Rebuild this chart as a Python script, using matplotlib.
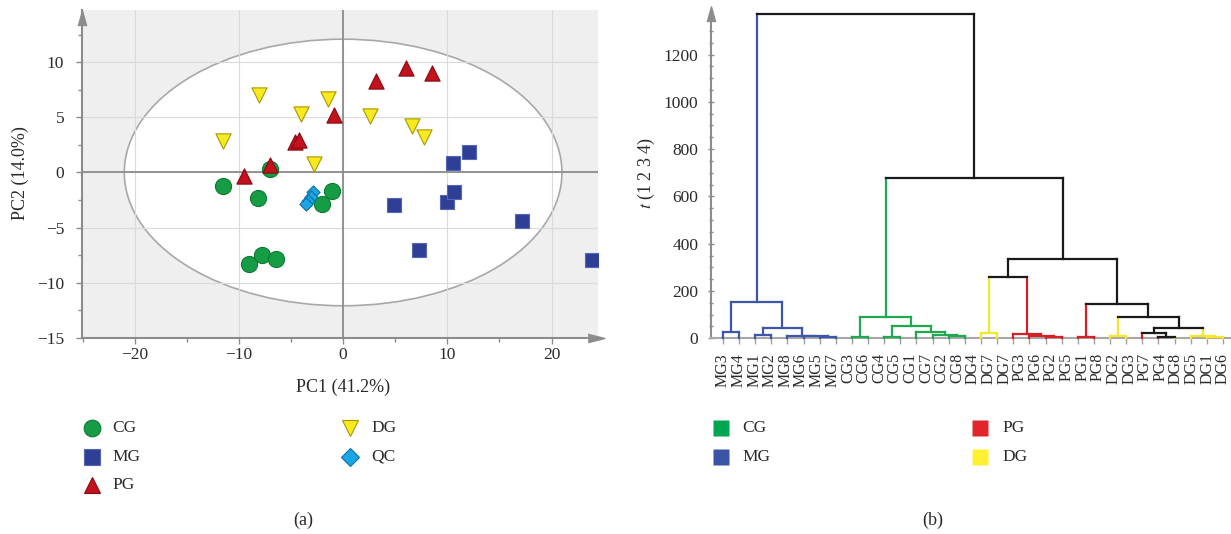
import numpy as np
import matplotlib
matplotlib.use("Agg")
import matplotlib.pyplot as plt
from matplotlib.patches import Ellipse
from matplotlib.lines import Line2D

plt.rcParams['font.family'] = ['Liberation Serif', 'DejaVu Serif']
plt.rcParams['mathtext.fontset'] = 'stix'

# ---------------- data: PCA scores (panel a) ----------------
cg_pc1 = [-11.5, -8.2, -7.0, -1.1, -2.0, -9.0, -7.8, -6.4]
cg_pc2 = [-1.2, -2.3, 0.35, -1.65, -2.85, -8.3, -7.45, -7.9]
mg_pc1 = [10.5, 12.05, 4.9, 10.0, 10.6, 17.2, 7.3, 23.9]
mg_pc2 = [0.85, 1.85, -2.95, -2.65, -1.8, -4.45, -7.0, -7.95]
pg_pc1 = [3.2, 6.0, 8.5, -0.9, -4.6, -4.2, -7.0, -9.5]
pg_pc2 = [8.3, 9.5, 9.0, 5.2, 2.8, 2.95, 0.65, -0.35]
dg_pc1 = [-11.5, -8.05, -4.05, -1.45, 2.55, 6.65, 7.8, -2.75]
dg_pc2 = [2.85, 7.0, 5.35, 6.65, 5.15, 4.25, 3.25, 0.75]
qc_pc1 = [-2.85, -3.1, -3.35, -3.6]
qc_pc2 = [-1.8, -2.2, -2.55, -2.9]
ellipse_width = 42.0     # Hotelling T2 (95%) along PC1
ellipse_height = 24.2    # along PC2
pc1_label = "PC1 (41.2%)"
pc2_label = "PC2 (14.0%)"

# ---------------- data: dendrogram (panel b) ----------------
leaf_labels = ["MG3", "MG4", "MG1", "MG2", "MG8", "MG6", "MG5", "MG7",
               "CG3", "CG6", "CG4", "CG5", "CG1", "CG7", "CG2", "CG8",
               "DG4", "DG7", "DG7", "PG3", "PG6", "PG2", "PG5", "PG1",
               "PG8", "DG2", "DG3", "PG7", "PG4", "DG8", "DG5", "DG1", "DG6"]
leaf_groups = (['MG'] * 8 + ['CG'] * 8 +
               ['DG', 'DG', 'PG', 'PG', 'PG', 'PG', 'PG', 'PG',
                'DG', 'DG', 'PG', 'PG', 'DG', 'DG', 'DG', 'DG'])
# merges: node ids 0..31 are leaves, new nodes numbered from 32
merge_left = [6, 5, 4, 2, 35, 0, 37, 8, 10, 14, 13, 12, 40, 39,
              16, 20, 19, 18, 46, 22, 24, 27, 26, 30, 29, 54, 52, 51, 50, 45, 38]
merge_right = [7, 32, 33, 3, 34, 1, 36, 9, 11, 15, 41, 42, 43, 44,
               17, 21, 47, 48, 49, 23, 25, 28, 53, 31, 55, 56, 57, 58, 59, 60, 61]
merge_height = [4, 8, 11, 14, 45, 28, 155, 5, 7, 10, 16, 27, 52, 89,
                24, 4, 10, 17, 260, 6, 10, 4, 23, 4, 11, 42, 90, 145, 337, 680, 1372]

# ---------------- styling ----------------
W, H = 1231, 534
fig = plt.figure(figsize=(W / 100, H / 100), dpi=100)
FS = 12.5
TXT = '#2a2a2a'
GRAY = '#8c8c8c'


def rect(l, t, r, b):
    return [l / W, 1 - b / H, (r - l) / W, (b - t) / H]


def fxy(x, y):
    return x / W, 1 - y / H


up_arrow = [(-0.55, -1), (0, 1), (0.55, -1)]
right_arrow = [(-1, -0.5), (1, 0), (-1, 0.5)]

# ================= Panel (a) =================
ax1 = fig.add_axes(rect(82.2, 10, 598, 337.7))
ax1.set_xlim(-25.04, 24.46)
ax1.set_ylim(-15, 14.75)
ax1.set_facecolor('#efefef')
ax1.set_axisbelow(True)
ax1.add_patch(Ellipse((0, 0), ellipse_width, ellipse_height, facecolor='white',
                      edgecolor='#a8a8a8', lw=1.2, zorder=0.2))
ax1.set_xticks([-20, -10, 0, 10, 20])
ax1.set_xticks(np.arange(-25, 25, 5), minor=True)
ax1.set_yticks([-15, -10, -5, 0, 5, 10])
ax1.set_yticks(np.arange(-15, 14.7, 2.5), minor=True)
ax1.set_xticklabels(['\u221220', '\u221210', '0', '10', '20'])
ax1.set_yticklabels(['\u221215', '\u221210', '\u22125', '0', '5', '10'])
ax1.grid(True, which='major', color='#dadada', lw=0.8)
ax1.axhline(0, color=GRAY, lw=1.3, zorder=0.6)
ax1.axvline(0, color=GRAY, lw=1.3, zorder=0.6)
ax1.tick_params(which='both', direction='out', color=GRAY, width=1,
                labelsize=FS, labelcolor=TXT)
ax1.tick_params(which='major', length=4)
ax1.tick_params(which='minor', length=3)
ax1.tick_params(axis='y', which='major', pad=9)
ax1.tick_params(axis='x', which='major', pad=3)
for s in ['top', 'right']:
    ax1.spines[s].set_visible(False)
for s in ['left', 'bottom']:
    ax1.spines[s].set_color(GRAY)
    ax1.spines[s].set_linewidth(1.5)
ax1.plot([0], [1 - 7.5 / 327.7], marker=up_arrow, ms=11, color=GRAY,
         transform=ax1.transAxes, clip_on=False, zorder=5)
ax1.plot([(596 - 82.2) / 515.8], [0], marker=right_arrow, ms=12, color=GRAY,
         transform=ax1.transAxes, clip_on=False, zorder=5)

styles = {
    'CG': dict(marker='o', s=135, c='#169c45', edgecolors='#0c7a32'),
    'MG': dict(marker='s', s=110, c='#2f3f96', edgecolors='#5566b4'),
    'PG': dict(marker='^', s=120, c='#c3121e', edgecolors='#860a12'),
    'DG': dict(marker='v', s=120, c='#f8ea1e', edgecolors='#a89800'),
    'QC': dict(marker='D', s=45, c='#1aa6e2', edgecolors='#0b6fa6'),
}
ax1.scatter(cg_pc1, cg_pc2, lw=0.8, zorder=3, **styles['CG'])
ax1.scatter(mg_pc1, mg_pc2, lw=0.8, zorder=3, **styles['MG'])
ax1.scatter(pg_pc1, pg_pc2, lw=0.8, zorder=3, **styles['PG'])
ax1.scatter(dg_pc1, dg_pc2, lw=0.8, zorder=3, **styles['DG'])
ax1.scatter(qc_pc1, qc_pc2, lw=0.8, zorder=3, **styles['QC'])

fig.text(*fxy(343, 387), pc1_label, ha='center', va='center', fontsize=13, color=TXT)
fig.text(*fxy(20, 173), pc2_label, ha='center', va='center', rotation=90,
         fontsize=13, color=TXT)

# legend (a)
leg_a = [('CG', 91.7, 427.7, 12), ('MG', 91.7, 456.7, 11.5), ('PG', 91.7, 485.3, 12),
         ('DG', 350, 427.7, 12), ('QC', 350, 456.7, 9)]
for name, x, y, ms in leg_a:
    st = styles[name]
    fig.add_artist(Line2D([x / W], [1 - y / H], marker=st['marker'], ms=ms, ls='',
                          mfc=st['c'], mec=st['edgecolors'], mew=0.8,
                          transform=fig.transFigure))
    fig.text(*fxy(x + 21, y), name, ha='left', va='center', fontsize=FS, color=TXT)
fig.text(*fxy(303.3, 520), '(a)', ha='center', va='center', fontsize=13, color=TXT)

# ================= Panel (b) =================
ax2 = fig.add_axes(rect(711, 12, 1231, 338.3))
ax2.set_xlim(-0.738, 31.5)
ax2.set_ylim(0, 1380)
line_colors = {'MG': '#3d56a9', 'CG': '#1fa84d', 'PG': '#d52027', 'DG': '#f6e62c'}
BLACK = '#1a1a1a'


def group_color(groups):
    return line_colors[next(iter(groups))] if len(groups) == 1 else BLACK


n_leaves = len(leaf_groups)
node_x = [float(i) for i in range(n_leaves)]
node_h = [0.0] * n_leaves
node_g = [{g} for g in leaf_groups]
lw = 1.6
for l, r, h in zip(merge_left, merge_right, merge_height):
    xl, xr = node_x[l], node_x[r]
    g = node_g[l] | node_g[r]
    ax2.plot([xl, xl], [node_h[l], h], color=group_color(node_g[l]), lw=lw,
             solid_capstyle='projecting', clip_on=False, zorder=3)
    ax2.plot([xr, xr], [node_h[r], h], color=group_color(node_g[r]), lw=lw,
             solid_capstyle='projecting', clip_on=False, zorder=3)
    ax2.plot([xl, xr], [h, h], color=group_color(g), lw=lw,
             solid_capstyle='projecting', clip_on=False, zorder=4)
    node_x.append((xl + xr) / 2)
    node_h.append(h)
    node_g.append(g)

ax2.xaxis.remove_overlapping_locs = False
ax2.set_yticks(np.arange(0, 1201, 200))
ax2.set_yticks(np.arange(0, 1351, 50), minor=True)
ax2.set_xticks(np.arange(n_leaves))
ax2.set_xticklabels([])
ax2.set_xticks(np.linspace(0, n_leaves - 1, len(leaf_labels)), minor=True)
ax2.set_xticklabels(leaf_labels, minor=True, rotation=90, fontsize=11.5, color=TXT)
ax2.tick_params(axis='x', which='major', direction='out', length=4.3, color='#a0a0a0', width=1)
ax2.tick_params(axis='x', which='minor', length=0, pad=10.5)
ax2.tick_params(axis='y', which='both', direction='inout', color=GRAY, width=1,
                labelsize=FS, labelcolor=TXT)
ax2.tick_params(axis='y', which='major', length=4, pad=7)
ax2.tick_params(axis='y', which='minor', length=3)
for s in ['top', 'right']:
    ax2.spines[s].set_visible(False)
ax2.spines['left'].set_color(GRAY)
ax2.spines['left'].set_linewidth(1.5)
ax2.spines['bottom'].set_color('#a8a8a8')
ax2.spines['bottom'].set_linewidth(1.5)
ax2.set_facecolor('none')
ax2.plot([0], [1 - 2 / 326.3], marker=up_arrow, ms=11, color=GRAY,
         transform=ax2.transAxes, clip_on=False, zorder=5)

fig.text(*fxy(646, 173), '$t$ (1 2 3 4)', ha='center', va='center', rotation=90,
         fontsize=13, color=TXT)

# legend (b)
leg_b = [('CG', 720.7, 427.7), ('MG', 720.7, 456.7), ('PG', 980, 427.7), ('DG', 980, 456.7)]
legend_b_colors = {'CG': '#00a651', 'MG': '#3a53a4', 'PG': '#e0252b', 'DG': '#fff032'}
for name, x, y in leg_b:
    fig.add_artist(Line2D([x / W], [1 - y / H], marker='s', ms=11.5, ls='',
                          mfc=legend_b_colors[name], mec='none',
                          transform=fig.transFigure))
    fig.text(*fxy(x + 22, y), name, ha='left', va='center', fontsize=FS, color=TXT)
fig.text(*fxy(932.7, 520), '(b)', ha='center', va='center', fontsize=13, color=TXT)

fig.savefig('out.png', dpi=100)
